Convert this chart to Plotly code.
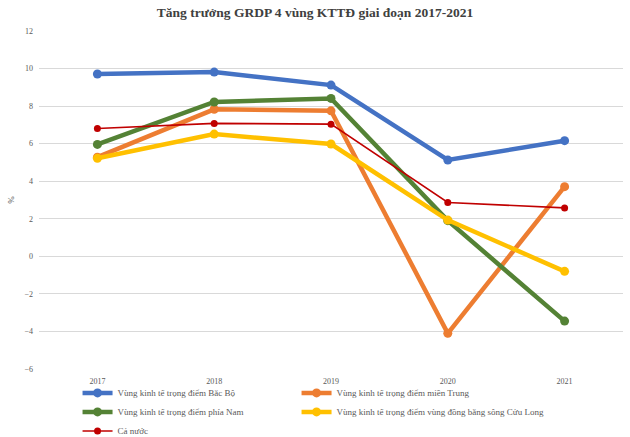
import plotly.graph_objects as go

years = ["2017", "2018", "2019", "2020", "2021"]
series_names = [
    "Vùng kinh tế trọng điểm Bắc Bộ",
    "Vùng kinh tế trọng điểm miền Trung",
    "Vùng kinh tế trọng điểm phía Nam",
    "Vùng kinh tế trọng điểm vùng đồng bằng sông Cửu Long",
    "Cả nước",
]
bac_bo = [9.71, 9.81, 9.12, 5.13, 6.16]
mien_trung = [5.28, 7.83, 7.75, -4.1, 3.71]
phia_nam = [5.96, 8.22, 8.41, 1.9, -3.45]
dbscl = [5.22, 6.51, 5.98, 1.93, -0.8]
ca_nuoc = [6.81, 7.08, 7.04, 2.87, 2.58]
y_ticks = [-6, -4, -2, 0, 2, 4, 6, 8, 10, 12]

values = [bac_bo, mien_trung, phia_nam, dbscl, ca_nuoc]
colors = ["#4472C4", "#ED7D31", "#548235", "#FFC000", "#C00000"]
widths = [4.5, 4.5, 4.5, 4.5, 1.6]
msizes = [9, 9, 9, 9, 7]
legend_ids = ["legend", "legend2", "legend", "legend2", "legend"]

fig = go.Figure()
for name, vals, c, w, ms, lg in zip(series_names, values, colors, widths, msizes, legend_ids):
    fig.add_trace(go.Scatter(
        x=years, y=vals, name=name, mode="lines+markers",
        line=dict(color=c, width=w),
        marker=dict(color=c, size=ms),
        legend=lg,
    ))

font_serif = "Liberation Serif, Times New Roman, serif"
legend_common = dict(orientation="v", xanchor="left",
                     yref="container", y=0.134, yanchor="top",
                     itemwidth=30, bgcolor="rgba(0,0,0,0)",
                     font=dict(family=font_serif, size=9, color="#595959"),
                     tracegroupgap=0, traceorder="normal")
fig.update_layout(
    width=630, height=437,
    margin=dict(l=39, r=7, t=31, b=68, autoexpand=False),
    paper_bgcolor="white", plot_bgcolor="white",
    title=dict(text="<b>Tăng trưởng GRDP 4 vùng KTTĐ giai đoạn 2017-2021</b>",
               x=0.5, xanchor="center", y=0.972, yanchor="middle",
               font=dict(family=font_serif, size=13.5, color="#404040")),
    font=dict(family=font_serif, size=8, color="#595959"),
    showlegend=True,
    legend=dict(x=0.066, **legend_common),
    legend2=dict(x=0.441, **legend_common),
)
fig.update_xaxes(type="category", showgrid=False, showline=False, ticks="",
                 tickfont=dict(family=font_serif, size=8, color="#595959"),
                 ticklabelstandoff=6,
                 range=[-0.5, 4.5])
fig.update_yaxes(range=[-6, 12], tickvals=y_ticks, showgrid=True, gridcolor="#D9D9D9",
                 gridwidth=1, zeroline=False, showline=False, ticks="",
                 tickfont=dict(family=font_serif, size=8, color="#595959"),
                 ticklabelstandoff=5,
                 title=dict(text="%", font=dict(family=font_serif, size=9, color="#595959"),
                            standoff=8))

fig.write_html("out.html")
